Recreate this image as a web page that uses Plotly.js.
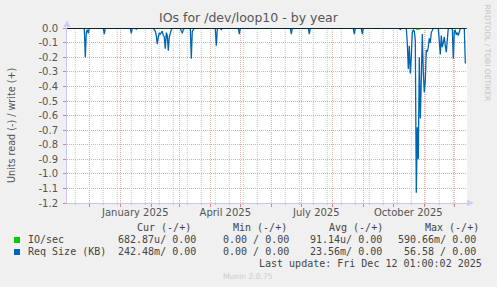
<!DOCTYPE html>
<html><head><meta charset="utf-8">
<script src="https://cdn.plot.ly/plotly-3.0.1.min.js"></script>
<style>html,body{margin:0;padding:0;background:#f0f0f0}#c{width:497px;height:287px}</style>
</head><body><div id="c"></div>
<script>
// ---- data ----
const reqDates = ['2024-11-09','2024-11-26','2024-11-27','2024-11-28','2024-11-29','2024-11-30','2024-12-01',
 '2024-12-15','2024-12-16','2024-12-17','2025-01-11','2025-01-12','2025-01-13','2025-01-16','2025-01-17','2025-01-18',
 '2025-02-03','2025-02-04','2025-02-05','2025-02-06','2025-02-07','2025-02-08','2025-02-09','2025-02-10','2025-02-11',
 '2025-02-12','2025-02-13','2025-02-14','2025-02-15','2025-02-16','2025-02-17','2025-02-18','2025-02-19','2025-02-20',
 '2025-02-21','2025-02-22','2025-03-02','2025-03-03','2025-03-04','2025-03-05','2025-03-06','2025-03-12','2025-03-13',
 '2025-03-14','2025-03-15','2025-03-16','2025-04-06','2025-04-07','2025-04-08','2025-04-09','2025-04-11','2025-04-12',
 '2025-04-13','2025-04-29','2025-04-30','2025-05-01','2025-06-20','2025-06-21','2025-06-22','2025-07-08','2025-07-09',
 '2025-07-10','2025-08-22','2025-08-23','2025-08-24','2025-08-30','2025-08-31','2025-09-01','2025-10-07','2025-10-08',
 '2025-10-09','2025-10-14','2025-10-15','2025-10-16','2025-10-17','2025-10-18','2025-10-19','2025-10-20','2025-10-21',
 '2025-10-22','2025-10-23','2025-10-24','2025-10-25','2025-10-26','2025-10-27','2025-10-28','2025-10-29','2025-10-30',
 '2025-10-31','2025-11-01','2025-11-02','2025-11-03','2025-11-04','2025-11-05','2025-11-06','2025-11-07','2025-11-08',
 '2025-11-09','2025-11-10','2025-11-15','2025-11-16','2025-11-17','2025-11-18','2025-11-19','2025-11-20','2025-11-21',
 '2025-11-22','2025-11-23','2025-11-24','2025-11-25','2025-11-29','2025-11-30','2025-12-01','2025-12-02','2025-12-03',
 '2025-12-04','2025-12-05','2025-12-06','2025-12-07','2025-12-11','2025-12-12 01:00'];
const reqValues = [0,0,-0.20,-0.03,-0.01,-0.035,0,
 0,-0.04,0,0,-0.035,0,0,-0.006,0,
 0,-0.01,-0.02,-0.05,-0.11,-0.06,-0.035,-0.04,-0.03,
 -0.02,-0.05,-0.06,-0.14,-0.03,-0.05,-0.155,-0.06,-0.03,
 -0.01,0,0,-0.02,-0.035,-0.01,0,0,-0.21,
 -0.02,-0.01,0,0,-0.12,-0.01,0,0,-0.01,
 0,0,-0.04,0,0,-0.04,0,0,-0.04,
 0,0,-0.04,0,0,-0.04,0,0,-0.008,
 0,0,-0.10,-0.28,-0.12,-0.31,-0.20,-0.03,-0.01,
 -0.02,-0.08,-1.13,-0.68,-0.90,-0.20,-0.62,-0.36,-0.04,
 -0.30,-0.44,-0.36,-0.15,-0.16,-0.13,-0.07,-0.10,-0.03,
 -0.01,0,0,-0.07,-0.18,-0.05,-0.13,-0.10,-0.06,
 -0.12,-0.165,-0.08,0,0,-0.21,-0.02,-0.015,-0.045,
 -0.03,-0.05,-0.01,0,0,-0.2425];
const ioDates = ['2024-11-09','2025-10-23','2025-10-24','2025-10-27','2025-10-28','2025-12-12 01:00'];
const ioValues = [0,0,-0.006,-0.006,0,0];

const seriesNames = ['IO/sec','Req Size (KB)'];
const seriesColors = ['#00cc00','#0066b3'];
const labelDates = ['2025-01-16','2025-04-16','2025-07-16','2025-10-16'];
const labelTexts = ['January 2025','April 2025','July 2025','October 2025'];
const yTicks = [0,-0.1,-0.2,-0.3,-0.4,-0.5,-0.6,-0.7,-0.8,-0.9,-1.0,-1.1,-1.2];
const yTickLabels = ['0.0','-0.1','-0.2','-0.3','-0.4','-0.5','-0.6','-0.7','-0.8','-0.9','-1.0','-1.1','-1.2'];
const legendHeader = ['Cur (-/+)','Min (-/+)','Avg (-/+)','Max (-/+)'];
const legendRows = [
  ['682.87u/ 0.00','0.00 / 0.00','91.14u/ 0.00','590.66m/ 0.00'],
  ['242.48m/ 0.00','0.00 / 0.00','23.56m/ 0.00','56.58 / 0.00']
];
const lastUpdate = 'Last update: Fri Dec 12 01:00:02 2025';
const titleText = 'IOs for /dev/loop10 - by year';
const yTitle = 'Units read (-) / write (+)';
const xRange = ['2024-11-08 17:00','2025-12-13 17:00'];

// ---- layout helpers ----
const L=67, R=467, T=28, B=203;
const px = v => (v-L)/(R-L);
const py = v => (B-v)/(B-T);

// grid positions
const monthStarts=[]; for(let m=0;m<13;m++){const d=new Date(Date.UTC(2024,11+m,1));monthStarts.push(d.toISOString().slice(0,10));}
const fortnights=[]; {let t=Date.UTC(2024,10,17); const end=Date.UTC(2025,11,13); while(t<end){fortnights.push(new Date(t).toISOString().slice(0,10)); t+=14*86400000;}}

const shapes=[];
fortnights.forEach(d=>{
  shapes.push({type:'line',xref:'x',yref:'paper',x0:d,x1:d,y0:0,y1:1,layer:'below',line:{color:'#c8c8c8',width:1,dash:'1px,1px'}});
  shapes.push({type:'line',xref:'x',yref:'paper',x0:d,x1:d,y0:-0.012,y1:0,layer:'below',line:{color:'#c0c0c0',width:1}});
});
// zero line
shapes.push({type:'line',xref:'paper',yref:'y',x0:0,x1:1,y0:0,y1:0,layer:'above',line:{color:'#000',width:1}});
// arrows
shapes.push({type:'path',xref:'paper',yref:'paper',path:`M ${px(67)} ${py(20)} L ${px(63.5)} ${py(27)} L ${px(70.5)} ${py(27)} Z`,fillcolor:'#c8d0f8',line:{width:0}});
shapes.push({type:'path',xref:'paper',yref:'paper',path:`M ${px(474)} ${py(203)} L ${px(467)} ${py(199.5)} L ${px(467)} ${py(206.5)} Z`,fillcolor:'#c8d0f8',line:{width:0}});
// legend squares
[[237,243],[249,255]].forEach((r,i)=>{
  shapes.push({type:'rect',xref:'paper',yref:'paper',x0:px(14),x1:px(20),y0:py(r[1]),y1:py(r[0]),fillcolor:seriesColors[i],line:{width:0}});
});

const mono = {family:'DejaVu Sans Mono',size:10,color:'#444'};
const ann=[];
const A=(text,x,y,xanchor,font,extra)=>ann.push(Object.assign({text,xref:'paper',yref:'paper',x:px(x),y:py(y),xanchor,yanchor:'middle',showarrow:false,font},extra||{}));
A(yTitle,11,125,'center',{family:'DejaVu Sans',size:9.6,color:'#555'},{textangle:-90});
A('RRDTOOL / TOBI OETIKER',487.5,53,'center',{family:'DejaVu Sans',size:7.5,color:'#c4c4c4'},{textangle:90});
const hdrX=[135,231,327,423];
legendHeader.forEach((t,i)=>A(t,hdrX[i],227.5,'left',mono));
const colRight=[198,291,384,478];
legendRows.forEach((row,r)=>{
  A(seriesNames[r],26,239.5+12*r,'left',mono);
  row.forEach((t,i)=>A(t,colRight[i],239.5+12*r,'right',mono));
});
A(lastUpdate,484,263.5,'right',mono);
A('Munin 2.0.75',248,276,'center',{family:'DejaVu Sans',size:7.6,color:'#cccccc'});

const traces=[
  {x:ioDates,y:ioValues,type:'scatter',mode:'lines',name:seriesNames[0],line:{color:seriesColors[0],width:1.2},hoverinfo:'skip'},
  {x:reqDates,y:reqValues,type:'scatter',mode:'lines',name:seriesNames[1],line:{color:seriesColors[1],width:1.3},hoverinfo:'skip'}
];

const layout={
  width:497,height:287,
  paper_bgcolor:'#f0f0f0',plot_bgcolor:'#ffffff',
  margin:{l:L,r:497-R,t:T,b:287-B,pad:0},
  showlegend:false,
  title:{text:titleText,x:0.5,xref:'container',xanchor:'center',y:1-18/287,yref:'container',yanchor:'middle',
         font:{family:'DejaVu Sans',size:12.5,color:'#555'}},
  xaxis:{type:'date',range:xRange,tickmode:'array',tickvals:labelDates,ticktext:labelTexts,
         showgrid:false,ticks:'',zeroline:false,showline:true,linecolor:'#c8c8e8',linewidth:1,
         tickfont:{family:'DejaVu Sans',size:10,color:'#555'},fixedrange:true,
         minor:{tickmode:'array',tickvals:monthStarts,showgrid:true,gridcolor:'#ebb0b0',griddash:'1px,1px',gridwidth:1,
                ticks:'outside',ticklen:3,tickcolor:'#e08080',tickwidth:1}},
  yaxis:{range:[-1.2,0.0015],tickmode:'array',tickvals:yTicks,ticktext:yTickLabels,
         showgrid:true,gridcolor:'#eaa6a6',griddash:'1px,1px',gridwidth:1,zeroline:false,
         showline:true,linecolor:'#c8c8f0',linewidth:1,ticks:'outside',ticklen:3,tickcolor:'#e08080',
         ticklabelstandoff:3,tickfont:{family:'DejaVu Sans',size:10,color:'#555'},fixedrange:true},
  shapes,annotations:ann
};
Plotly.newPlot('c',traces,layout,{displayModeBar:false,staticPlot:true});
</script></body></html>
